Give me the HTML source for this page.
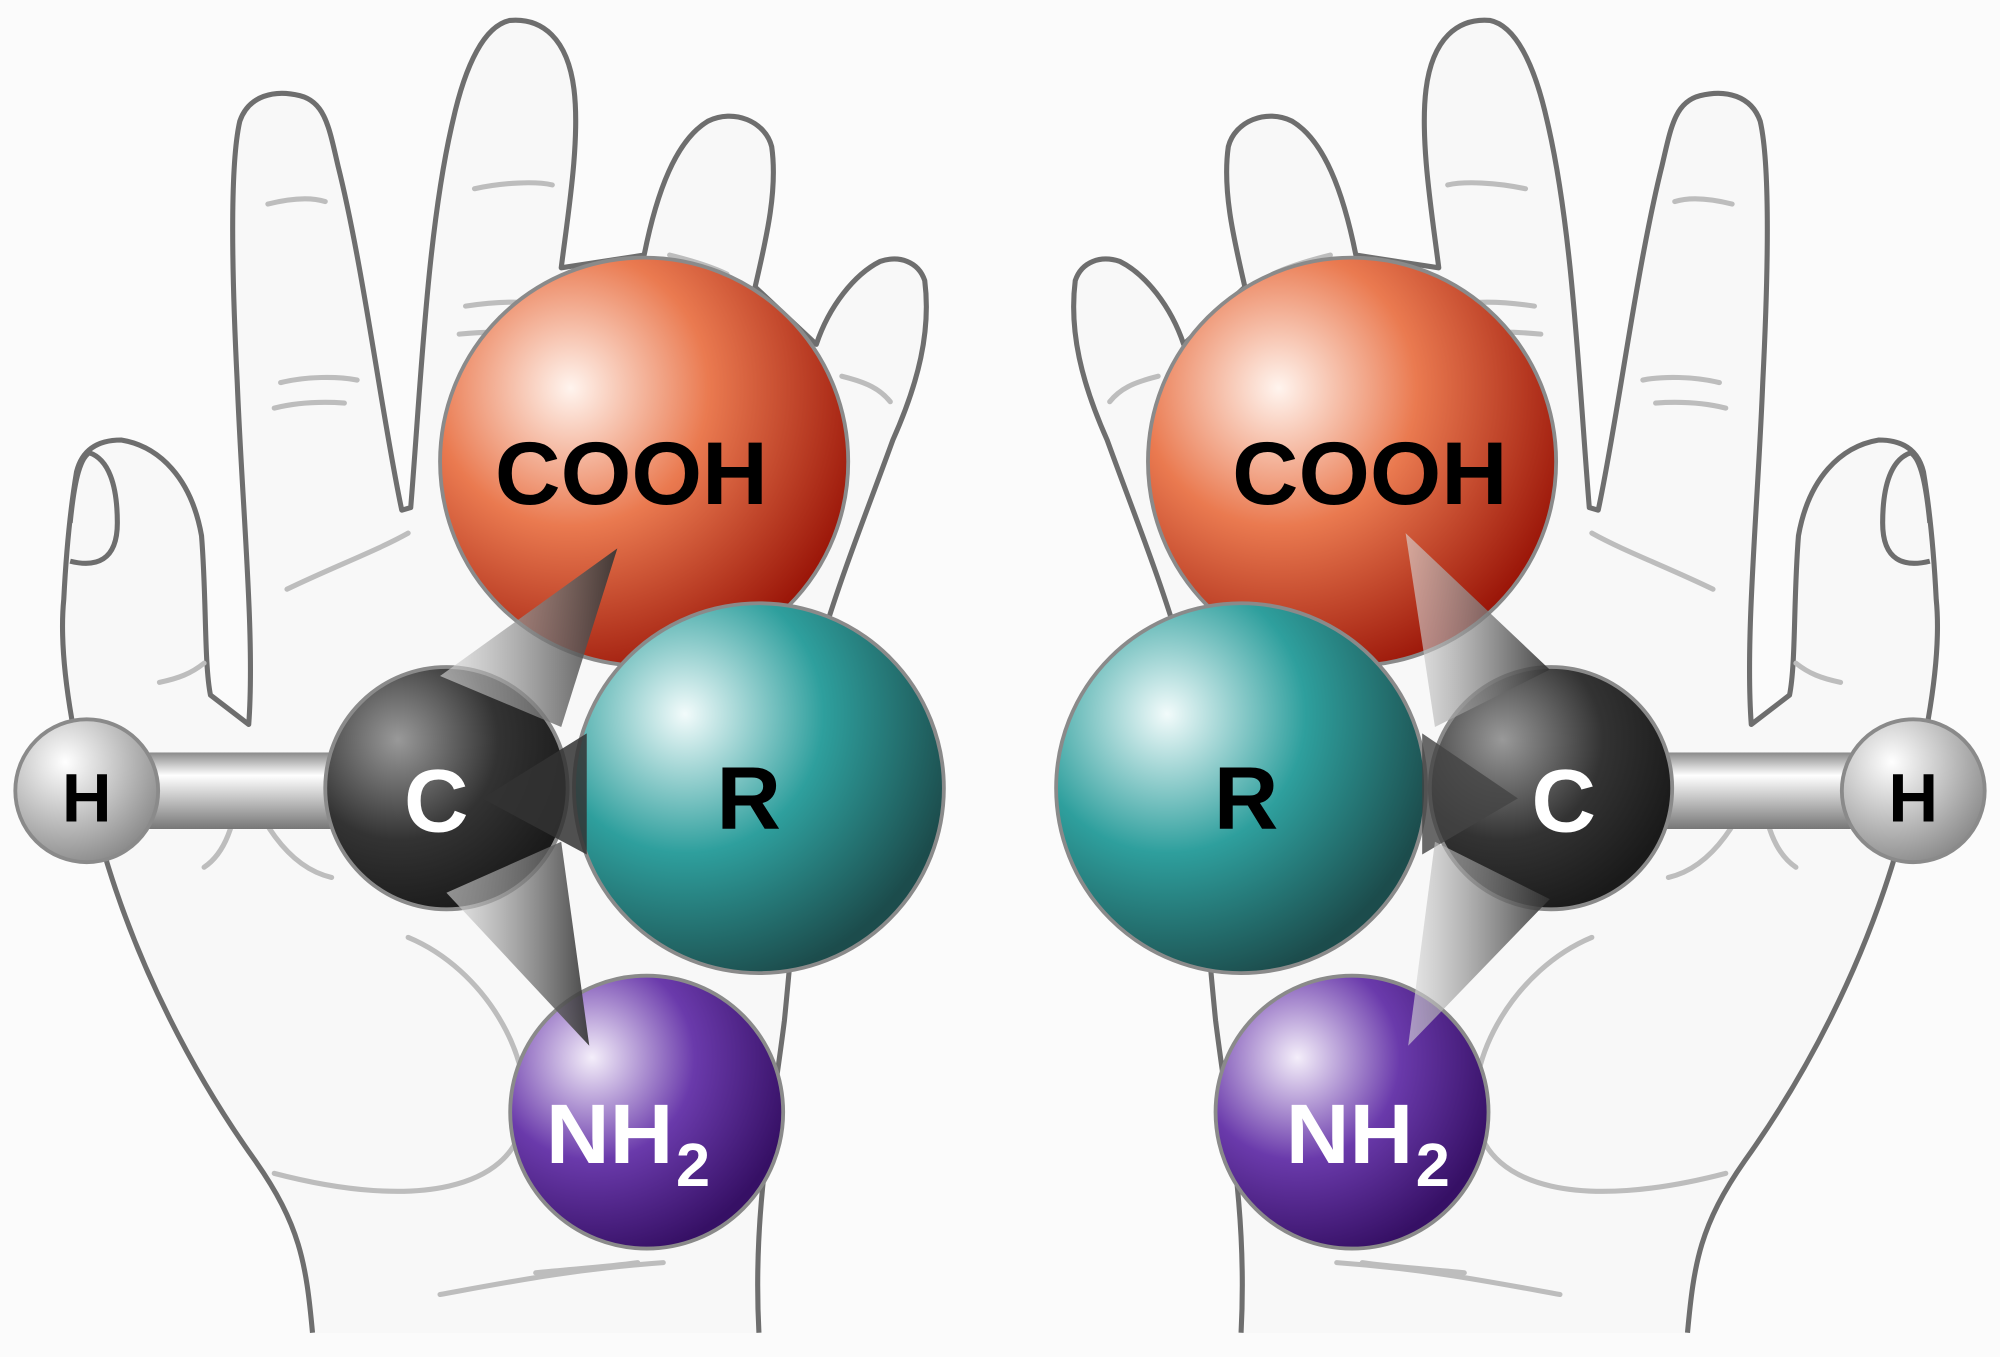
<!DOCTYPE html>
<html><head><meta charset="utf-8"><style>
html,body{margin:0;padding:0;background:#fbfbfb;}
svg{display:block;}
text{font-family:"Liberation Sans",sans-serif;font-weight:bold;}
</style></head><body>
<svg width="2000" height="1357" viewBox="0 0 1568 1064" preserveAspectRatio="none" xmlns="http://www.w3.org/2000/svg">
<defs>
<radialGradient id="gO" cx="0.32" cy="0.32" r="0.75"><stop offset="0" stop-color="#fff4ee"/><stop offset="0.45" stop-color="#ea7a50"/><stop offset="1" stop-color="#9a1508"/></radialGradient>
<radialGradient id="gR" cx="0.3" cy="0.3" r="0.75"><stop offset="0" stop-color="#f2fbfb"/><stop offset="0.5" stop-color="#2e9f9d"/><stop offset="1" stop-color="#1c4c4c"/></radialGradient>
<radialGradient id="gC" cx="0.3" cy="0.3" r="0.75"><stop offset="0" stop-color="#999"/><stop offset="0.55" stop-color="#333"/><stop offset="1" stop-color="#1a1a1a"/></radialGradient>
<radialGradient id="gH" cx="0.35" cy="0.3" r="0.75"><stop offset="0" stop-color="#fff"/><stop offset="1" stop-color="#8a8a8a"/></radialGradient>
<radialGradient id="gN" cx="0.3" cy="0.3" r="0.75"><stop offset="0" stop-color="#f4eefa"/><stop offset="0.5" stop-color="#6a3aab"/><stop offset="1" stop-color="#361065"/></radialGradient>
<linearGradient id="gB" x1="0" y1="0" x2="0" y2="1"><stop offset="0" stop-color="#8a8a8a"/><stop offset="0.3" stop-color="#fff"/><stop offset="1" stop-color="#777"/></linearGradient>
<linearGradient id="gW" x1="0" y1="0" x2="1" y2="0"><stop offset="0" stop-color="#ddd" stop-opacity="0.6"/><stop offset="1" stop-color="#333" stop-opacity="0.9"/></linearGradient>
<g id="hand">
<path d="M245,1045 C240,990 235,960 200,910 C150,840 110,760 85,680 C60,600 45,520 50,470 C52,430 55,400 60,370 C65,350 80,345 95,345 C125,350 150,375 158,420 C162,470 160,520 165,545 L195,568 C200,500 190,400 186,300 C182,220 180,130 188,95 C195,75 215,70 235,75 C255,80 258,100 265,130 C285,210 300,330 315,400 L322,398 C330,300 335,180 355,95 C365,50 380,20 400,16 C425,14 445,30 450,70 C455,110 445,170 440,210 L505,200 C515,150 530,110 555,95 C575,85 600,95 605,115 C610,150 600,190 592,225 L640,270 C650,240 670,215 690,205 C705,200 720,205 725,220 C730,260 720,300 700,345 C680,400 660,450 645,500 C635,560 625,700 615,800 C605,880 590,950 595,1045" fill="#f8f8f8" stroke="#6e6e6e" stroke-width="4" stroke-linejoin="round"/>
<path d="M55,410 C58,380 62,360 70,355 C85,360 92,380 92,410 C92,440 75,445 55,440" fill="none" stroke="#6e6e6e" stroke-width="4"/>
<g fill="none" stroke="#bdbdbd" stroke-width="4" stroke-linecap="round">
<path d="M210,160 C230,155 245,155 255,158"/><path d="M220,300 C240,295 265,295 280,298"/><path d="M215,320 C235,315 255,315 270,316"/>
<path d="M372,148 C395,143 420,142 433,145"/><path d="M365,240 C385,237 405,236 420,238"/><path d="M360,262 C380,260 400,260 410,262"/>
<path d="M225,462 C260,445 295,432 320,418"/><path d="M125,535 C140,532 150,528 160,520"/>
<path d="M160,680 C175,670 185,650 190,600"/><path d="M190,600 C200,640 225,680 260,688"/>
<path d="M320,735 C380,760 420,830 410,880 C400,930 330,950 215,920"/>
<path d="M345,1015 C400,1005 450,995 520,990"/><path d="M420,998 C450,995 480,993 500,990"/>
<path d="M525,200 C545,205 560,210 570,215"/><path d="M660,295 C680,300 690,305 698,315"/>
</g>
</g>
</defs>
<rect width="1568" height="1064" fill="#fbfbfb"/>
<use href="#hand"/>
<use href="#hand" transform="translate(1568,0) scale(-1,1)"/>

<!-- LEFT molecule -->
<rect x="68" y="590" width="290" height="60" fill="url(#gB)"/>
<circle cx="68" cy="620" r="56" fill="url(#gH)" stroke="#8a8a8a" stroke-width="3"/>
<circle cx="505" cy="362" r="160" fill="url(#gO)" stroke="#8a8a8a" stroke-width="3"/>
<circle cx="350" cy="618" r="95" fill="url(#gC)" stroke="#8a8a8a" stroke-width="3"/>
<polygon points="484,430 345,530 440,570" fill="url(#gW)"/>
<circle cx="595" cy="618" r="145" fill="url(#gR)" stroke="#8a8a8a" stroke-width="3"/>
<polygon points="378,626 460,575 460,670" fill="#333" opacity="0.85"/>
<circle cx="507" cy="872" r="107" fill="url(#gN)" stroke="#8a8a8a" stroke-width="3"/>
<polygon points="462,820 350,700 440,660" fill="url(#gW)"/>
<text x="495" y="395" font-size="70" text-anchor="middle" fill="#000" textLength="214" lengthAdjust="spacingAndGlyphs">COOH</text>
<text x="587" y="650" font-size="70" text-anchor="middle" fill="#000">R</text>
<text x="342" y="652" font-size="70" text-anchor="middle" fill="#fff">C</text>
<text x="68" y="644" font-size="54" text-anchor="middle" fill="#000">H</text>
<text x="428" y="912" font-size="66" fill="#fff" textLength="100" lengthAdjust="spacingAndGlyphs">NH</text><text x="530" y="930" font-size="48" fill="#fff">2</text>

<!-- RIGHT molecule -->
<rect x="1210" y="590" width="290" height="60" fill="url(#gB)"/>
<circle cx="1500" cy="620" r="56" fill="url(#gH)" stroke="#8a8a8a" stroke-width="3"/>
<circle cx="1060" cy="362" r="160" fill="url(#gO)" stroke="#8a8a8a" stroke-width="3"/>
<circle cx="1216" cy="618" r="95" fill="url(#gC)" stroke="#8a8a8a" stroke-width="3"/>
<circle cx="973" cy="618" r="145" fill="url(#gR)" stroke="#8a8a8a" stroke-width="3"/>
<polygon points="1102,418 1215,525 1125,570" fill="url(#gW)"/>
<polygon points="1190,626 1115,575 1115,670" fill="#444" opacity="0.8"/>
<circle cx="1060" cy="872" r="107" fill="url(#gN)" stroke="#8a8a8a" stroke-width="3"/>
<polygon points="1104,820 1215,705 1125,660" fill="url(#gW)"/>
<text x="1074" y="395" font-size="70" text-anchor="middle" fill="#000" textLength="216" lengthAdjust="spacingAndGlyphs">COOH</text>
<text x="977" y="650" font-size="70" text-anchor="middle" fill="#000">R</text>
<text x="1226" y="652" font-size="70" text-anchor="middle" fill="#fff">C</text>
<text x="1500" y="644" font-size="54" text-anchor="middle" fill="#000">H</text>
<text x="1008" y="912" font-size="66" fill="#fff" textLength="100" lengthAdjust="spacingAndGlyphs">NH</text><text x="1110" y="930" font-size="48" fill="#fff">2</text>
</svg>
</body></html>
